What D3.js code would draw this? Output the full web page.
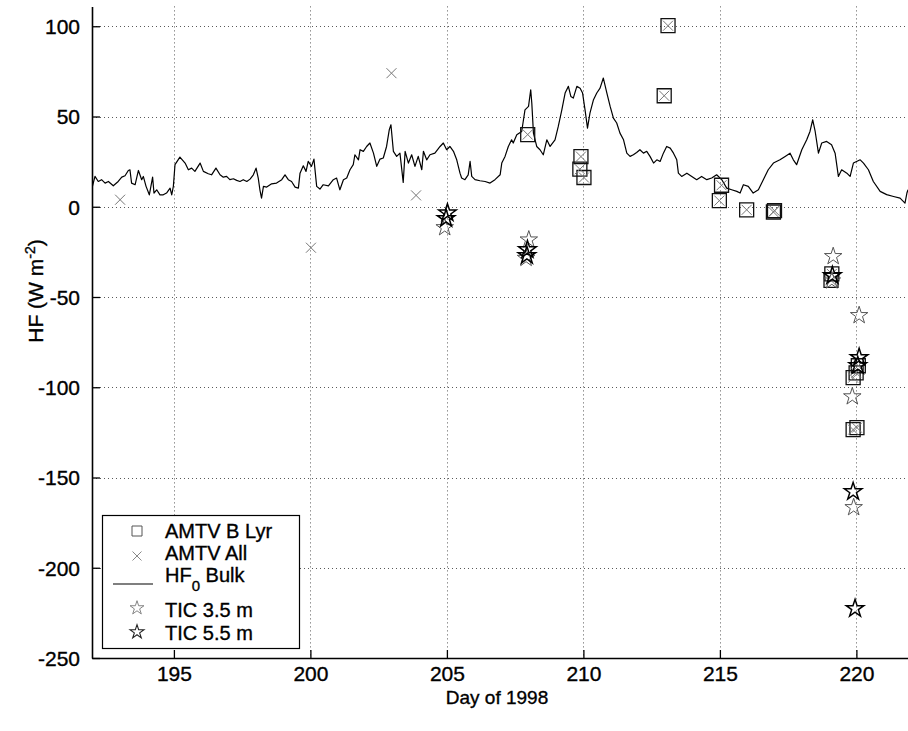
<!DOCTYPE html>
<html>
<head>
<meta charset="utf-8">
<script src="https://cdn.jsdelivr.net/npm/d3@7"></script>
<style>
  html, body { margin: 0; padding: 0; background: #fff; }
  svg { display: block; font-family: "Liberation Sans", Arial, sans-serif; }
  .lbl { fill: #000; stroke: #000; stroke-width: 0.35px; }
</style>
</head>
<body>
<svg id="chart" width="908" height="731"></svg>
<script>
// HF0 bulk heat flux time series (day of year, W m-2)
const bulkDay = [
  192.0,192.11,192.23,192.35,192.48,192.6,192.78,192.96,193.09,193.21,193.33,193.39,193.45,193.58,193.7,193.82,193.88,193.98,
  194.1,194.22,194.27,194.37,194.49,194.61,194.73,194.86,194.92,194.98,195.04,195.22,195.41,195.53,195.65,195.77,195.96,
  196.08,196.26,196.38,196.54,196.69,196.81,196.93,197.05,197.18,197.3,197.42,197.54,197.67,197.79,197.91,198.01,198.09,
  198.15,198.21,198.28,198.4,198.58,198.76,198.95,199.07,199.19,199.31,199.44,199.56,199.62,199.74,199.84,199.92,200.04,
  200.13,200.23,200.35,200.47,200.66,200.84,200.96,201.08,201.21,201.33,201.45,201.57,201.63,201.76,201.82,201.94,202.06,
  202.18,202.31,202.43,202.55,202.67,202.79,202.89,202.95,203.04,203.16,203.28,203.4,203.47,203.59,203.71,203.83,203.95,
  204.08,204.14,204.26,204.38,204.56,204.75,204.87,204.99,205.11,205.24,205.36,205.48,205.54,205.66,205.78,205.85,205.91,
  206.03,206.21,206.4,206.58,206.76,206.95,207.01,207.13,207.25,207.37,207.43,207.56,207.74,207.86,207.99,208.07,208.11,
  208.17,208.29,208.41,208.53,208.66,208.78,208.96,209.08,209.21,209.33,209.45,209.54,209.63,209.76,209.88,209.97,210.06,
  210.15,210.24,210.37,210.49,210.61,210.73,210.86,210.98,211.1,211.22,211.34,211.47,211.59,211.71,211.83,211.95,212.07,
  212.2,212.32,212.44,212.57,212.69,212.81,212.93,213.05,213.18,213.3,213.42,213.48,213.6,213.79,213.97,214.15,214.33,
  214.52,214.7,214.88,215.07,215.25,215.43,215.62,215.74,215.86,216.04,216.22,216.41,216.59,216.77,216.96,217.2,217.39,
  217.57,217.69,217.81,218.0,218.18,218.3,218.4,218.49,218.61,218.73,218.91,219.09,219.22,219.34,219.46,219.65,219.77,
  219.89,220.14,220.26,220.44,220.62,220.87,221.11,221.36,221.6,221.78,221.85,221.89
];
const bulkHF = [
  10.4,16.8,14.0,15.0,13.1,14.0,11.6,14.0,16.4,17.2,20.1,20.5,13.1,12.2,20.1,15.0,16.8,11.3,
  6.6,16.4,7.6,9.4,6.6,6.6,7.6,10.3,6.6,11.3,23.3,27.5,24.2,20.5,21.4,19.6,24.2,
  19.6,18.3,17.7,21.4,17.7,16.4,16.8,15.0,15.5,14.6,14.0,15.0,14.0,15.3,17.7,21.4,15.9,
  9.4,4.8,11.3,10.9,12.7,13.1,15.0,17.7,15.0,14.0,10.9,10.3,18.6,22.7,19.6,25.1,22.4,
  26.4,11.3,9.8,12.2,11.6,15.0,15.9,9.4,15.0,15.9,20.5,23.3,28.8,26.0,31.6,30.7,33.4,
  35.3,29.7,22.4,26.4,27.0,33.4,42.7,45.4,30.7,27.9,29.7,13.5,30.7,24.2,28.8,22.4,27.9,
  20.5,30.7,26.0,28.8,29.7,33.4,35.3,31.6,33.4,30.7,26.0,18.6,15.9,15.0,17.7,25.1,16.8,
  15.0,14.4,14.0,13.1,15.0,17.7,24.2,27.9,33.4,37.1,35.3,39.9,41.7,53.7,55.6,64.8,57.4,
  40.8,33.4,31.6,28.8,37.1,33.4,37.1,44.5,53.7,63.0,66.7,61.1,60.2,66.7,65.7,63.0,53.7,
  43.6,51.9,59.3,63.0,65.7,71.3,63.0,55.6,49.1,46.4,40.8,37.1,29.7,27.9,28.8,30.1,31.6,
  29.7,30.7,27.9,24.2,26.0,25.1,29.7,33.4,32.5,29.7,26.0,18.6,16.8,18.6,16.8,15.0,16.8,
  15.0,15.9,17.7,15.0,10.3,9.4,8.5,7.6,12.2,11.3,7.6,9.4,15.0,20.5,24.2,26.0,27.9,
  29.7,26.0,23.3,31.6,37.1,41.7,48.2,41.7,29.7,35.3,36.2,34.4,29.7,16.8,20.5,18.6,16.8,
  24.2,26.0,24.2,20.5,14.0,8.5,6.7,5.7,4.8,2.0,7.6,9.4
];

// AMTV boundary-layer estimates (squares)
const lyrDay = [207.96, 213.1, 212.96, 209.91, 209.87, 210.02, 215.06, 214.98, 215.98, 216.96, 217.0,
                219.1, 219.07, 219.99, 219.88, 220.07, 219.88, 220.02];
const lyrHF  = [40, 100.3, 61.5, 27.8, 20.8, 16.2, 11.9, 3.4, -1.7, -2.9, -2.2,
                -37.2, -40.8, -92, -94.7, -88.1, -123.5, -122.4];

// AMTV all-layer estimates (crosses)
const allDay = [193.03, 200.02, 202.97, 203.87].concat(lyrDay);
const allHF  = [3.9, -22.7, 74.0, 6.3].concat(lyrHF);

// TIC estimates (stars)
const tic35Day = [204.92, 208.0, 207.9, 219.15, 219.1, 220.1, 219.85, 219.9];
const tic35HF  = [-11.5, -18.3, -28.5, -27.5, -41.0, -60.2, -105.2, -166.6];
const tic55Day = [205.02, 204.97, 207.95, 207.93, 219.12, 220.1, 220.05, 219.88, 219.95];
const tic55HF  = [-3.4, -6.5, -23.8, -27.0, -38.2, -83.5, -88.0, -157.8, -222.6];

const xTicks = [195, 200, 205, 210, 215, 220];
const yTicks = [-250, -200, -150, -100, -50, 0, 50, 100];

const legendLabels = ["AMTV B Lyr", "AMTV All", "HF", "TIC 3.5 m", "TIC 5.5 m"];

const svg = d3.select("#chart");
const pLeft = 92, pRight = 911, pTop = 6.4, pBottom = 658;

const x = d3.scaleLinear().domain([192, 222]).range([pLeft, pRight]);
const y = d3.scaleLinear().domain([-250, 111]).range([pBottom, pTop]);

// grid
const grid = svg.append("g").attr("stroke", "#222").attr("stroke-width", 1)
  .attr("stroke-dasharray", "1,3").attr("opacity", 0.75);
grid.selectAll("line.v").data(xTicks).join("line")
  .attr("x1", d => Math.round(x(d)) + 0.5).attr("x2", d => Math.round(x(d)) + 0.5)
  .attr("y1", pTop).attr("y2", pBottom);
grid.selectAll("line.h").data(yTicks.filter(d => d > -250)).join("line")
  .attr("x1", pLeft).attr("x2", pRight)
  .attr("y1", d => Math.round(y(d)) + 0.5).attr("y2", d => Math.round(y(d)) + 0.5);

svg.append("clipPath").attr("id", "plot").append("rect")
  .attr("x", pLeft).attr("y", pTop).attr("width", pRight - pLeft).attr("height", pBottom - pTop);

const plot = svg.append("g").attr("clip-path", "url(#plot)");

// bulk line
const line = d3.line().x((d, i) => x(bulkDay[i])).y(d => y(d));
plot.append("path").datum(bulkHF).attr("d", line)
  .attr("fill", "none").attr("stroke", "#000").attr("stroke-width", 1.2).attr("stroke-linejoin", "round");

// markers
const crossPath = r => `M${-r},${-r}L${r},${r}M${-r},${r}L${r},${-r}`;
const squarePath = d3.symbol(d3.symbolSquare, 196)();
const starPath = d3.symbol(d3.symbolStar, 95)();

plot.selectAll("path.sq").data(lyrHF).join("path")
  .attr("d", squarePath)
  .attr("transform", (d, i) => `translate(${x(lyrDay[i])},${y(d)})`)
  .attr("fill", "none").attr("stroke", "#111").attr("stroke-width", 1.3);

plot.selectAll("path.cr").data(allHF).join("path")
  .attr("d", crossPath(5))
  .attr("transform", (d, i) => `translate(${x(allDay[i])},${y(d)})`)
  .attr("fill", "none").attr("stroke", "#777").attr("stroke-width", 1);

plot.selectAll("path.s35").data(tic35HF).join("path")
  .attr("d", starPath)
  .attr("transform", (d, i) => `translate(${x(tic35Day[i])},${y(d)})`)
  .attr("fill", "none").attr("stroke", "#555").attr("stroke-width", 1);

plot.selectAll("path.s55").data(tic55HF).join("path")
  .attr("d", starPath)
  .attr("transform", (d, i) => `translate(${x(tic55Day[i])},${y(d)})`)
  .attr("fill", "none").attr("stroke", "#000").attr("stroke-width", 1.5);

// axes (plain hyphen for negative labels)
const fmt = d => String(d);
const xAxis = d3.axisBottom(x).tickValues(xTicks).tickFormat(fmt).tickSizeInner(-8).tickSizeOuter(0).tickPadding(8);
const yAxis = d3.axisLeft(y).tickValues(yTicks).tickFormat(fmt).tickSizeInner(-8).tickSizeOuter(0).tickPadding(12);

const gx = svg.append("g").attr("transform", `translate(0,${pBottom})`).call(xAxis);
const gy = svg.append("g").attr("transform", `translate(${pLeft},0)`).call(yAxis);
[gx, gy].forEach(g => {
  g.attr("font-size", 21).attr("font-family", "Liberation Sans, Arial, sans-serif");
  g.select(".domain").attr("stroke", "#000").attr("stroke-width", 1.6);
  g.selectAll(".tick line").attr("stroke", "#000").attr("stroke-width", 1.3);
  g.selectAll(".tick text").attr("class", "lbl");
});
gy.selectAll(".tick text").attr("dy", "0.35em");

// axis titles
svg.append("text").attr("class", "lbl").attr("x", 497).attr("y", 704).attr("text-anchor", "middle")
  .attr("font-size", 19).text("Day of 1998");

const yt = svg.append("text").attr("class", "lbl").attr("transform", "translate(43,291) rotate(-90)")
  .attr("text-anchor", "middle").attr("font-size", 21);
yt.append("tspan").text("HF (W m");
yt.append("tspan").attr("dy", -8).attr("font-size", 14).text("-2");
yt.append("tspan").attr("dy", 8).text(")");

// legend
const lg = svg.append("g");
lg.append("rect").attr("x", 102.5).attr("y", 515.5).attr("width", 197).attr("height", 133)
  .attr("fill", "#fff").attr("stroke", "#000").attr("stroke-width", 1.2);
const mx = 137, tx = 165;
lg.append("path").attr("d", d3.symbol(d3.symbolSquare, 100)())
  .attr("transform", `translate(${mx},531)`).attr("fill", "none").attr("stroke", "#555").attr("stroke-width", 1);
lg.append("path").attr("d", crossPath(4.5))
  .attr("transform", `translate(${mx},556)`).attr("fill", "none").attr("stroke", "#888").attr("stroke-width", 1);
lg.append("line").attr("x1", 113).attr("x2", 153).attr("y1", 584).attr("y2", 584)
  .attr("stroke", "#000").attr("stroke-width", 1.2);
lg.append("path").attr("d", d3.symbol(d3.symbolStar, 60)())
  .attr("transform", `translate(${mx},608)`).attr("fill", "none").attr("stroke", "#777").attr("stroke-width", 0.9);
lg.append("path").attr("d", d3.symbol(d3.symbolStar, 60)())
  .attr("transform", `translate(${mx},632)`).attr("fill", "none").attr("stroke", "#222").attr("stroke-width", 1.1);

const ly = [538, 560, 582, 617, 640];
legendLabels.forEach((t, i) => {
  const el = lg.append("text").attr("class", "lbl").attr("x", tx).attr("y", ly[i]).attr("font-size", 20);
  if (i === 2) {
    el.append("tspan").text("HF");
    el.append("tspan").attr("dy", 9).attr("font-size", 15).text("0");
    el.append("tspan").attr("dy", -9).text(" Bulk");
  } else {
    el.text(t);
  }
});
</script>
</body>
</html>
